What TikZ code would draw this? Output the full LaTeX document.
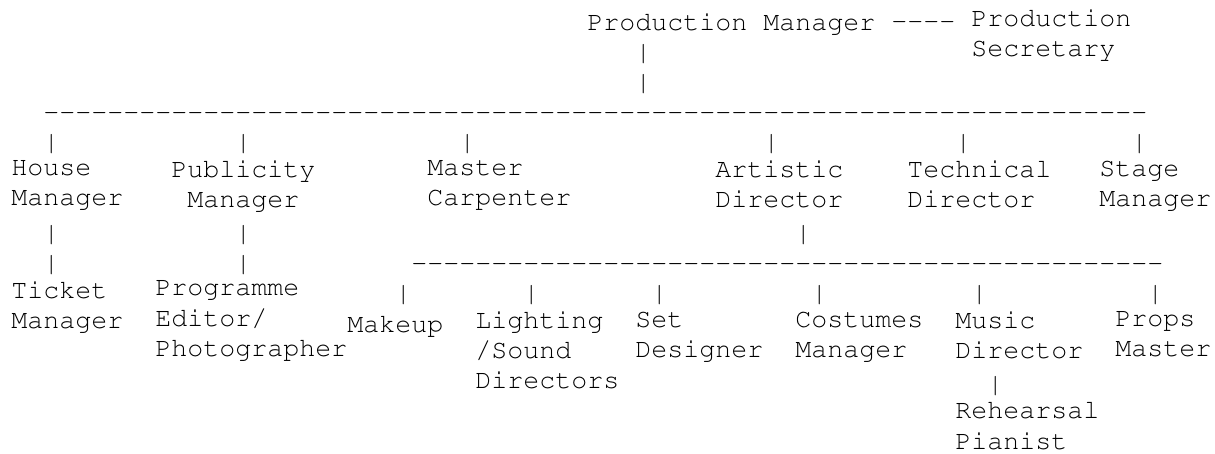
\documentclass[tikz,border=0pt]{standalone}
\usepackage[T1]{fontenc}
\usepackage{courier}
\usepackage{xcolor}
\usepackage{tikz}

\newcommand{\chartfont}{\ttfamily\fontsize{13.33pt}{15.1pt}\selectfont}

\begin{document}
\begin{tikzpicture}[x=8pt,y=-15.1pt,
    box/.style={anchor=north west,inner sep=0pt,yshift=10.57pt,align=left,font=\chartfont,execute at begin node=\strut},
    bar/.style={anchor=base west,inner sep=0pt,font=\chartfont}]
    \useasboundingbox (-0.6875,-0.9934) rectangle (75.25,14.0397);
    \node[box] (prodmgr) at (36,0) {Production Manager};
    \node[box] (prodsec) at (60,0) {Production\\Secretary};
    \foreach \c in {55,...,58}
      \node[bar] (h0-\c) at (\c,0) {-};
    \foreach \r in {1,2}
      \node[bar] (v\r-39) at (39,\r) {|};
    \foreach \c in {2,...,70}
      \node[bar] (h3-\c) at (\c,3) {-};
    \foreach \c in {2,14,28,47,59,70}
      \node[bar] (v4-\c) at (\c,4) {|};
    \node[box] (house) at (0,5) {House\\Manager};
    \node[box,align=center] (publicity) at (10,5) {Publicity\\Manager};
    \node[box] (carpenter) at (26,5) {Master\\Carpenter};
    \node[box] (artistic) at (44,5) {Artistic\\Director};
    \node[box] (technical) at (56,5) {Technical\\Director};
    \node[box] (stage) at (68,5) {Stage\\Manager};
    \foreach \c in {2,14,49}
      \node[bar] (v7-\c) at (\c,7) {|};
    \foreach \c in {2,14}
      \node[bar] (v8-\c) at (\c,8) {|};
    \foreach \c in {25,...,71}
      \node[bar] (h8-\c) at (\c,8) {-};
    \foreach \c in {24,32,40,50,60,71}
      \node[bar] (v9-\c) at (\c,9) {|};
    \node[box] (ticket) at (0,9) {Ticket\\Manager};
    \node[box] (programme) at (9,9) {Programme\\Editor/\\Photographer};
    \node[box] (makeup) at (21,10) {Makeup};
    \node[box] (lighting) at (29,10) {Lighting\\/Sound\\Directors};
    \node[box] (setdes) at (39,10) {Set\\Designer};
    \node[box] (costumes) at (49,10) {Costumes\\Manager};
    \node[box] (music) at (59,10) {Music\\Director};
    \node[box] (props) at (69,10) {Props\\Master};
    \node[bar] (v12-61) at (61,12) {|};
    \node[box] (pianist) at (59,13) {Rehearsal\\Pianist};
  \end{tikzpicture}
\end{document}
